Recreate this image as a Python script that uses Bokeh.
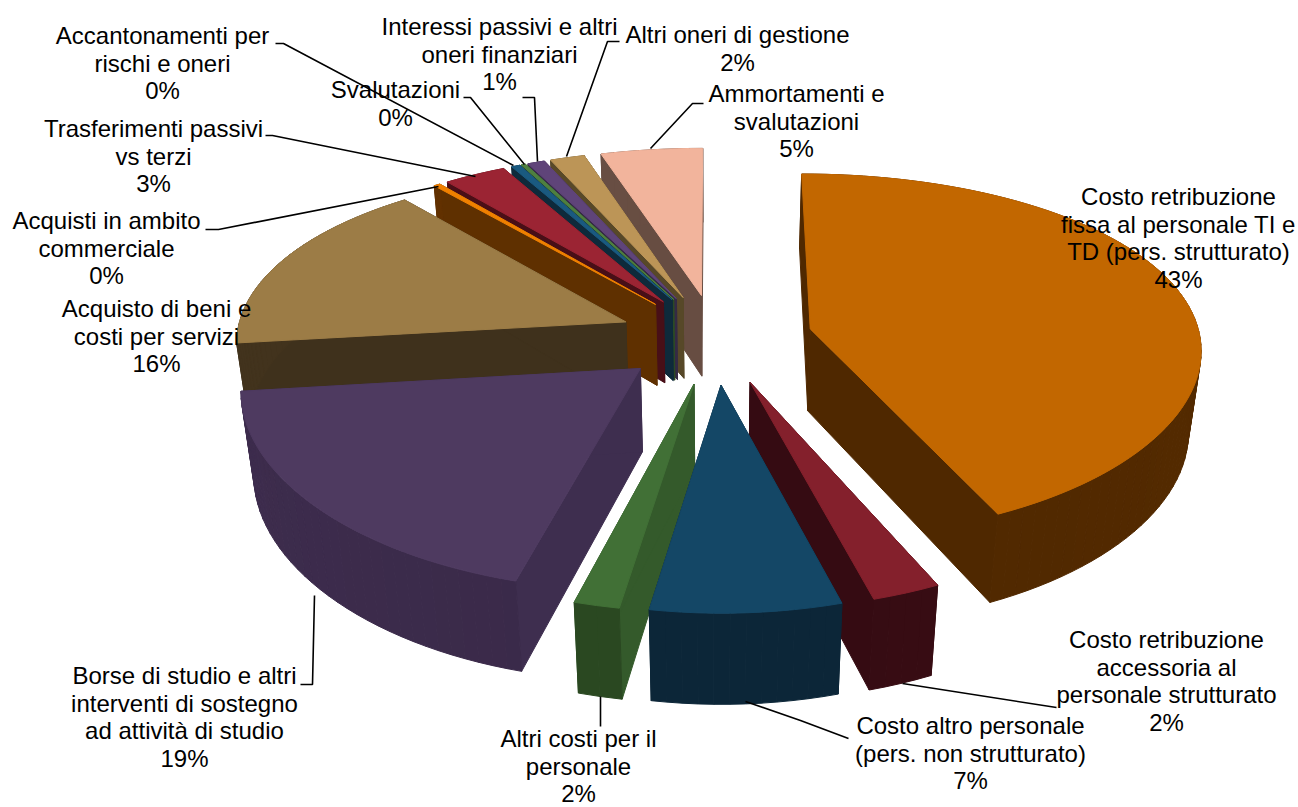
import math
from bokeh.plotting import figure
from bokeh.models import Range1d, ColumnDataSource
from bokeh.core.properties import value
from bokeh.embed import file_html
from bokeh.resources import INLINE

# ---- data ----
categories = [
    "Costo retribuzione fissa al personale TI e TD (pers. strutturato)",
    "Costo retribuzione accessoria al personale strutturato",
    "Costo altro personale (pers. non strutturato)",
    "Altri costi per il personale",
    "Borse di studio e altri interventi di sostegno ad attività di studio",
    "Acquisto di beni e costi per servizi",
    "Acquisti in ambito commerciale",
    "Trasferimenti passivi vs terzi",
    "Accantonamenti per rischi e oneri",
    "Svalutazioni",
    "Interessi passivi e altri oneri finanziari",
    "Altri oneri di gestione",
    "Ammortamenti e svalutazioni",
]
shares = [43.0, 2.49, 6.95, 1.66, 18.79, 15.9, 0.3, 2.9, 0.4, 0.2, 0.8, 1.6, 4.7]

# ---- styles ----
top_colors = ["#c26700", "#84202c", "#144766", "#417036", "#4e3a60", "#9c7c46", "#f08000",
              "#9b2433", "#1a5a80", "#4f8040", "#5f4479", "#bc9557", "#f2b49c"]
wall_colors = ["#4f2800", "#350b12", "#0c2638", "#345a2b", "#3e2e4f", "#3f311c", "#5f3000",
               "#480f17", "#0e2a3b", "#2c4a24", "#352a45", "#574828", "#674d42"]
rim_colors = ["#4f2800", "#360c13", "#0c2638", "#2a4821", "#3a2a49", "#3f311c", "#5f3000",
              "#480f17", "#0e2a3b", "#2c4a24", "#352a45", "#574828", "#674d42"]

# ---- projection of the tilted pie ----
X0, Y0, RX, RY = 715.0, 338.0, 390.0, 180.0
PERSP_X, PERSP_Y, DEPTH, PERSP_Z = 0.10, 0.145, 84.5, 0.027
EXPLODE = 0.25


def project(a, b, d):
    sx = 1.0 / (1.0 - PERSP_X * b + PERSP_Z * d)
    sy = 1.0 / (1.0 - PERSP_Y * b + PERSP_Z * d)
    return X0 + RX * a * sx, Y0 + (RY * b + DEPTH * d) * sy


def shade(col, f):
    r, g, b = int(col[1:3], 16), int(col[3:5], 16), int(col[5:7], 16)
    return "#%02x%02x%02x" % tuple(min(255, int(c * f)) for c in (r, g, b))


total = sum(shares)
slices = []
cum = 0.0
for i, v in enumerate(shares):
    t0 = 2 * math.pi * cum / total
    cum += v
    t1 = 2 * math.pi * cum / total
    slices.append((i, t0, t1))


def pt(theta):
    return math.sin(theta), -math.cos(theta)


xs, ys, cs = [], [], []


def add(poly, color):
    xs.append([q[0] for q in poly])
    ys.append([q[1] for q in poly])
    cs.append(color)


order = sorted(slices, key=lambda s: pt((s[1] + s[2]) / 2)[1])
for i, t0, t1 in order:
    mid = (t0 + t1) / 2
    ox, oy = EXPLODE * math.sin(mid), -EXPLODE * math.cos(mid)
    n = max(2, int((t1 - t0) / math.radians(2)))
    arc = [t0 + (t1 - t0) * j / n for j in range(n + 1)]
    rim = [(ox + pt(t)[0], oy + pt(t)[1]) for t in arc]
    # radial walls
    for (ra, rb) in (rim[0], rim[-1]):
        add([project(ox, oy, 0), project(ra, rb, 0), project(ra, rb, 1), project(ox, oy, 1)], wall_colors[i])
    # outer wall, strip by strip
    for j in range(n):
        (a0, b0), (a1, b1) = rim[j], rim[j + 1]
        f = 1.0 + 0.06 * abs(math.sin(arc[j]))
        add([project(a0, b0, 0), project(a1, b1, 0), project(a1, b1, 1), project(a0, b0, 1)], shade(rim_colors[i], f))
    add([project(ox, oy, 0)] + [project(a, b, 0) for a, b in rim], top_colors[i])

# ---- layout of labels and leaders (page pixels) ----
label_lines = [
    ["Costo retribuzione", "fissa al personale TI e", "TD (pers. strutturato)"],
    ["Costo retribuzione", "accessoria al", "personale strutturato"],
    ["Costo altro personale", "(pers. non strutturato)"],
    ["Altri costi per il", "personale"],
    ["Borse di studio e altri", "interventi di sostegno", "ad attività di studio"],
    ["Acquisto di beni e", "costi per servizi"],
    ["Acquisti in ambito", "commerciale"],
    ["Trasferimenti passivi", "vs terzi"],
    ["Accantonamenti per", "rischi e oneri"],
    ["Svalutazioni"],
    ["Interessi passivi e altri", "oneri finanziari"],
    ["Altri oneri di gestione"],
    ["Ammortamenti e", "svalutazioni"],
]
label_center = [(1178, 196), (1166, 639), (970, 725), (578, 738), (184, 675), (156, 308), (106, 220),
                (153, 128), (162, 35), (395, 89), (499, 26), (737, 34), (796, 93)]
LINE_H = 27.6

leaders = [
    [(902, 683), (1056, 707)],
    [(745, 701), (800, 720), (848, 738)],
    [(600, 696), (600, 726)],
    [(314, 595), (312, 684), (300, 684)],
    [(438, 186), (218, 229), (205, 229)],
    [(475, 176), (272, 135), (265, 135)],
    [(513, 165), (283, 43), (275, 43)],
    [(524, 164), (470, 97), (463, 97)],
    [(537, 161), (534, 97), (522, 97)],
    [(566, 156), (607, 41), (619, 41)],
    [(650, 148), (692, 103), (703, 103)],
]

p = figure(width=1298, height=807, output_backend="svg", toolbar_location=None,
           x_range=Range1d(0, 1298), y_range=Range1d(807, 0),
           min_border=0, outline_line_color=None, border_fill_color="white")
p.axis.visible = False
p.grid.visible = False

p.patches("xs", "ys", source=ColumnDataSource(dict(xs=xs, ys=ys, c=cs)),
          fill_color="c", line_color="c", line_width=1)

p.multi_line([[q[0] for q in l] for l in leaders], [[q[1] for q in l] for l in leaders],
             line_color="black", line_width=1.6)

tx, ty, tt = [], [], []
for i, lines in enumerate(label_lines):
    full = lines + ["%d%%" % round(shares[i])]
    cx, top = label_center[i]
    for j, line in enumerate(full):
        tx.append(cx)
        ty.append(top + j * LINE_H)
        tt.append(line)
p.text(tx, ty, text=tt, text_font=value("Liberation Sans"), text_font_size="24px",
       text_align="center", text_baseline="middle", text_color="black")

open("out.html", "w").write(file_html(p, INLINE))
